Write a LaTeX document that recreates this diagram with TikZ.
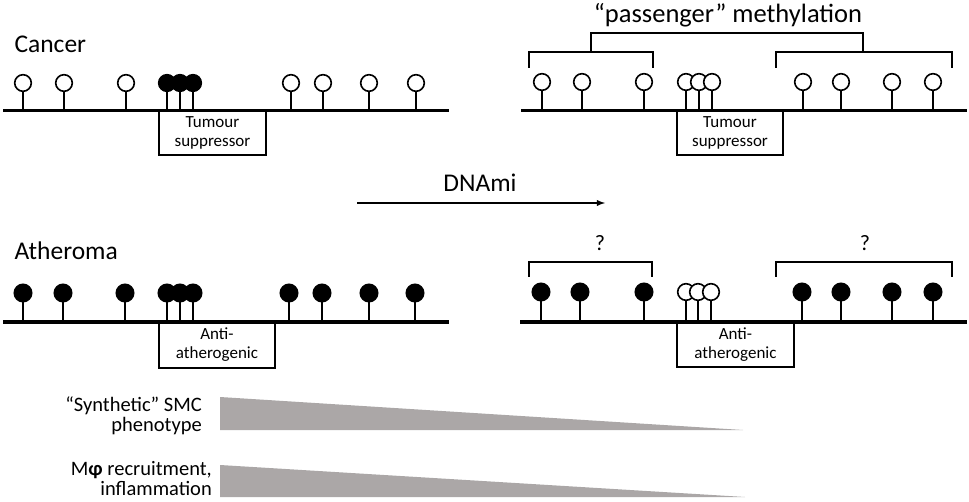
\documentclass[tikz,border=0pt]{standalone}
\usepackage{fontspec}
\setmainfont{Carlito}
\usepackage{tikz}
\definecolor{wedgegray}{RGB}{171,167,167}

\begin{document}
\begin{tikzpicture}[x=1pt, y=-1pt,
        dna/.style={line width=3.3pt},
        stem/.style={line width=1.8pt},
        openpin/.style={draw, fill=white, line width=1.6pt},
        fullpin/.style={draw, fill=black, line width=1.6pt},
        bracket/.style={line width=1.8pt},
        genebox/.style={draw, line width=1.8pt, fill=white, align=center, inner sep=0pt, font=\fontsize{17}{19}\selectfont},
        biglabel/.style={font=\fontsize{25.5}{30}\selectfont},
        sidelabel/.style={anchor=east, align=right, inner sep=1pt, font=\fontsize{20.5}{20}\selectfont}]
        \useasboundingbox (0, 0) rectangle (969, 502);

        % Cancer, before and after
        \node[biglabel, anchor=base west] (cancer) at (11, 53) {Cancer};
        \node[genebox, minimum width=107, minimum height=45] (tsL) at (212.5, 132.5) {Tumour\\suppressor};
        \node[genebox, minimum width=106, minimum height=45] (tsR) at (730, 132.5) {Tumour\\suppressor};
        \draw[dna] (3, 110.5) -- (449, 110.5);
        \draw[dna] (521, 110.5) -- (967, 110.5);
        \foreach \x in {23, 64, 126, 291, 323, 369, 416} {
            \draw[stem] (\x, 110) -- (\x, 83);
            \draw[openpin] (\x, 83) circle (8.3);
        }
        \foreach \x in {167, 180, 193} {
            \draw[stem] (\x, 110) -- (\x, 83);
            \draw[fullpin] (\x, 83) circle (8.3);
        }
        \foreach \x in {542, 582, 644, 686, 699, 712, 803, 841, 892, 933} {
            \draw[stem] (\x, 110) -- (\x, 82);
            \draw[openpin] (\x, 82) circle (8.3);
        }
        \draw[bracket] (529, 68) -- (529, 52) -- (653, 52) -- (653, 68);
        \draw[bracket] (776, 68) -- (776, 52) -- (952, 52) -- (952, 68);
        \draw[bracket] (591, 52) -- (591, 33) -- (863, 33) -- (863, 52);
        \node[font=\fontsize{26.5}{30}\selectfont] (passenger) at (728, 15) {“passenger” methylation};

        % DNAmi arrow
        \node[biglabel] (dnami) at (480, 183) {DNAmi};
        \coordinate (a1) at (357, 203);
        \coordinate (a2) at (605, 203);
        \draw[line width=1.8pt, -latex] (a1) -- (a2);

        % Atheroma, before and after
        \node[biglabel, anchor=base west] (atheroma) at (11, 260) {Atheroma};
        \node[genebox, minimum width=116, minimum height=46] (agL) at (217, 345) {Anti-\\atherogenic};
        \node[genebox, minimum width=117, minimum height=45] (agR) at (735.5, 344.5) {Anti-\\atherogenic};
        \draw[dna] (3, 322) -- (449, 322);
        \draw[dna] (520, 322) -- (967, 322);
        \foreach \x in {23, 63, 125, 167, 180, 193, 289, 322, 369, 415} {
            \draw[stem] (\x, 322) -- (\x, 293);
            \draw[fullpin] (\x, 293) circle (8.7);
        }
        \foreach \x in {541, 580, 644, 802, 841, 892, 933} {
            \draw[stem] (\x, 322) -- (\x, 292);
            \draw[fullpin] (\x, 292) circle (8.7);
        }
        \foreach \x in {686, 698, 711} {
            \draw[stem] (\x, 322) -- (\x, 292);
            \draw[openpin] (\x, 292) circle (8.3);
        }
        \draw[bracket] (529, 277) -- (529, 262) -- (652, 262) -- (652, 277);
        \draw[bracket] (776, 277) -- (776, 262) -- (952, 262) -- (952, 277);
        \node[font=\fontsize{22}{24}\selectfont] (q1) at (600, 243) {?};
        \node[font=\fontsize{22}{24}\selectfont] (q2) at (865, 243) {?};

        % wedges
        \node[sidelabel] (smc) at (203, 416) {“Synthetic” SMC\\phenotype};
        \node[sidelabel] (mphi) at (213, 479) {M{\bfseries φ} recruitment,\\inflammation};
        \fill[wedgegray] (220, 397) -- (743, 430) -- (220, 430) -- cycle;
        \fill[wedgegray] (220, 465) -- (745, 497) -- (220, 497) -- cycle;
    \end{tikzpicture}
\end{document}
